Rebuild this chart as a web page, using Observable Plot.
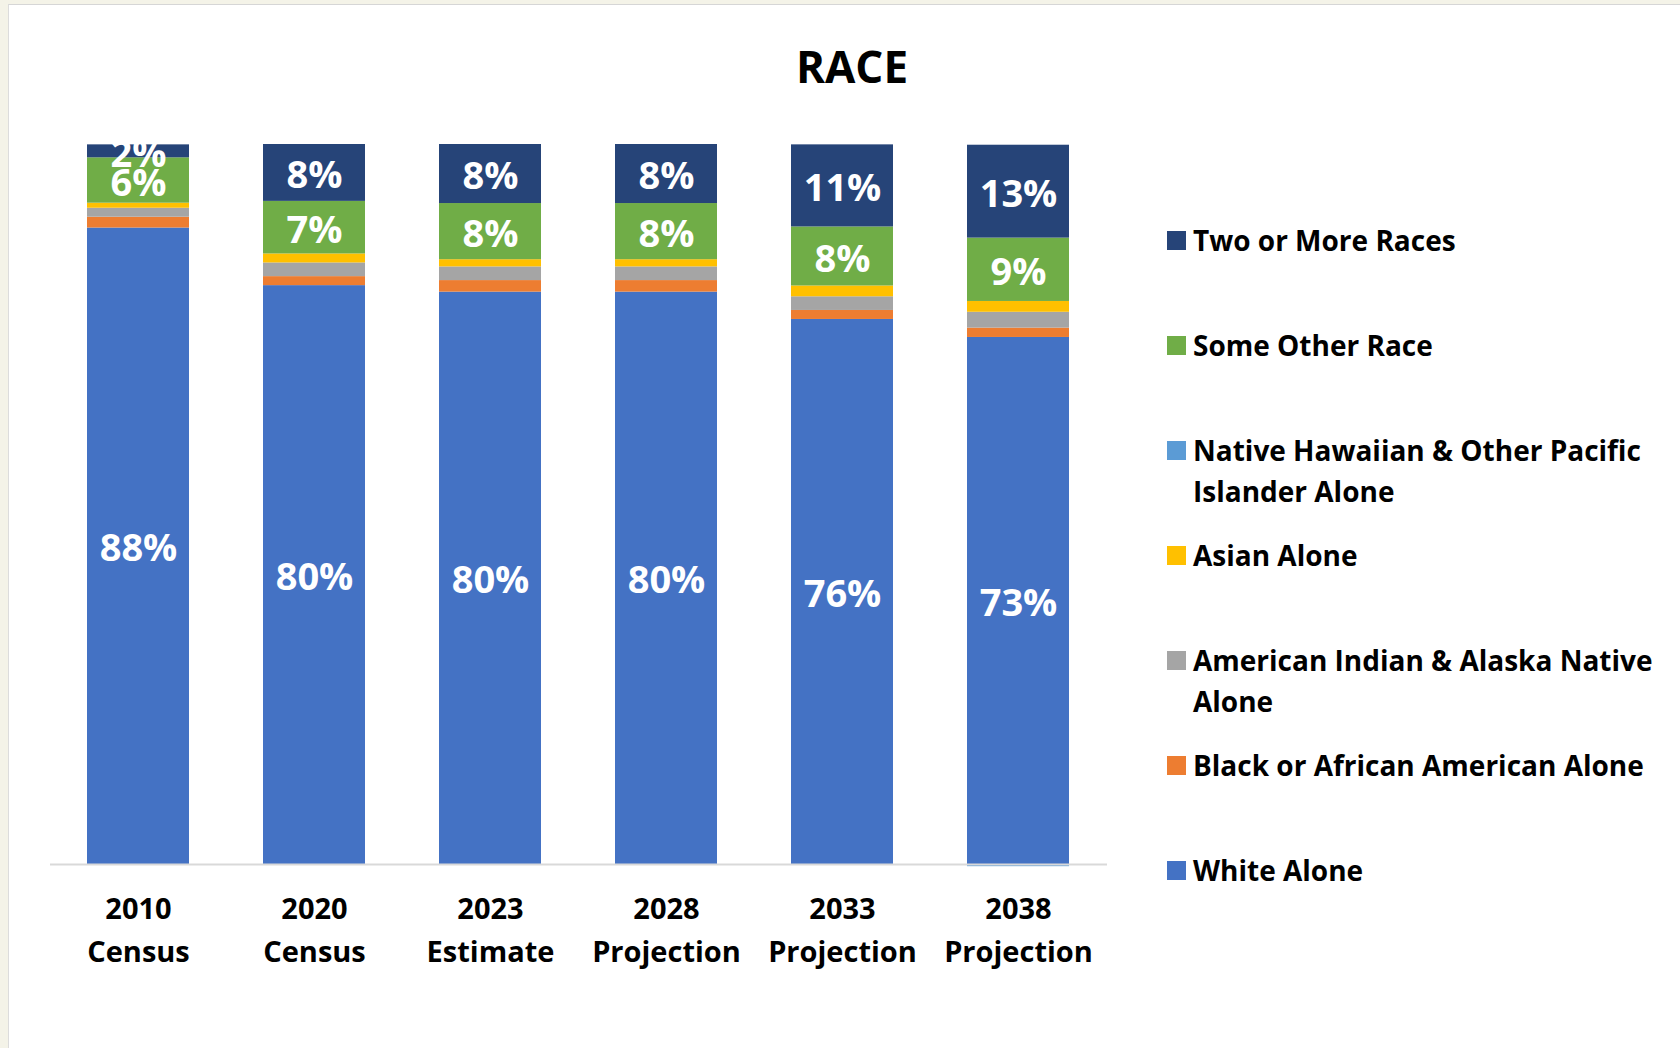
<!DOCTYPE html>
<html>
<head>
<meta charset="utf-8">
<script src="https://cdn.jsdelivr.net/npm/d3@7"></script>
<script src="https://cdn.jsdelivr.net/npm/@observablehq/plot@0.6"></script>
<style>
  html, body { margin: 0; padding: 0; }
  body { width: 1680px; height: 1048px; background: #f4f3e8; position: relative; overflow: hidden; font-family: "Open Sans", sans-serif; }
  #panel { position: absolute; left: 8px; top: 4px; width: 1672px; height: 1044px; background: #fff; border-top: 1.5px solid #d6d6d6; border-left: 1.5px solid #dcdcdc; box-sizing: border-box; }
  #chart { position: absolute; left: 0; top: 0; }
  #title { position: absolute; left: 852px; top: 44px; transform: translateX(-50%); font-size: 44px; line-height: 44px; font-weight: 700; color: #000; white-space: nowrap; }
  .lg-item { position: absolute; left: 1167px; }
  .lg-sw { position: absolute; left: 0; width: 19px; height: 19px; }
  .lg-tx { position: absolute; left: 26px; top: 0; font-size: 28px; line-height: 41px; font-weight: 700; color: #000; white-space: pre; }
</style>
</head>
<body>
<div id="panel"></div>
<div id="chart"></div>
<div id="title">RACE</div>
<div id="legend"></div>
<script>
// ---- data ----
const categories = ["2010 Census", "2020 Census", "2023 Estimate", "2028 Projection", "2033 Projection", "2038 Projection"];
const seriesNames = [
  "White Alone",
  "Black or African American Alone",
  "American Indian & Alaska Native Alone",
  "Asian Alone",
  "Native Hawaiian & Other Pacific Islander Alone",
  "Some Other Race",
  "Two or More Races"
];
const seriesColors = ["#4472C4", "#ED7D31", "#A5A5A5", "#FFC000", "#5B9BD5", "#70AD47", "#264478"];
const whiteAlone = [88.4, 80.4, 79.5, 79.5, 75.7, 73.2];
const blackAlone = [1.5, 1.25, 1.6, 1.6, 1.25, 1.3];
const aianAlone  = [1.25, 1.9, 1.9, 1.9, 1.9, 2.2];
const asianAlone = [0.7, 1.25, 1.0, 1.0, 1.5, 1.5];
const nhpiAlone  = [0, 0, 0, 0, 0, -0.3];
const someOther  = [6.3, 7.3, 7.8, 7.8, 8.2, 8.8];
const twoOrMore  = [1.8, 7.9, 8.2, 8.2, 11.4, 12.9];
const labeledSeries = ["White Alone", "Some Other Race", "Two or More Races"];
// legend display lines (wrapped like the original)
const legendText = {
  "Native Hawaiian & Other Pacific Islander Alone": "Native Hawaiian & Other Pacific\nIslander Alone",
  "American Indian & Alaska Native Alone": "American Indian & Alaska Native\nAlone"
};

const seriesValues = [whiteAlone, blackAlone, aianAlone, asianAlone, nhpiAlone, someOther, twoOrMore];
const data = categories.flatMap((c, i) =>
  seriesNames.map((s, j) => ({category: c, series: s, value: seriesValues[j][i]}))
);

const chart = Plot.plot({
  width: 1130,
  height: 1048,
  marginLeft: 50,
  marginRight: 23,
  marginTop: 144,
  marginBottom: 184,
  style: {background: "transparent", fontFamily: "Open Sans, sans-serif", color: "#000", overflow: "visible"},
  x: {domain: categories, paddingInner: 0.42, paddingOuter: 0.21, axis: null, label: null},
  y: {domain: [0, 100], axis: null},
  color: {domain: seriesNames, range: seriesColors},
  marks: [
    Plot.barY(data, {x: "category", y: "value", z: "series", fill: "series", order: seriesNames}),
    Plot.ruleY([0], {stroke: "#d9d9d9", strokeWidth: 2}),
    Plot.text(data, Plot.stackY({
      x: "category", y: "value", z: "series", order: seriesNames,
      text: d => labeledSeries.includes(d.series) ? Math.round(d.value) + "%" : null,
      fill: "white", fontSize: 38, fontWeight: "bold", dy: 3
    })),
    Plot.axisX({
      label: null,
      tickSize: 0, tickPadding: 24, fontSize: 29, fontWeight: "bold", lineHeight: 1.48,
      fill: "#000", tickFormat: d => d.replace(" ", "\n")
    })
  ]
});
document.getElementById("chart").appendChild(chart);

// ---- legend (HTML, top item first) ----
const legend = document.getElementById("legend");
const legendOrder = seriesNames.slice().reverse();
legendOrder.forEach((s, k) => {
  const center = 240 + k * 105.1;
  const item = document.createElement("div");
  item.className = "lg-item";
  item.style.top = (center - 20.5) + "px";
  const sw = document.createElement("div");
  sw.className = "lg-sw";
  sw.style.top = "11px";
  sw.style.background = seriesColors[seriesNames.indexOf(s)];
  const tx = document.createElement("div");
  tx.className = "lg-tx";
  tx.textContent = legendText[s] || s;
  item.appendChild(sw);
  item.appendChild(tx);
  legend.appendChild(item);
});
</script>
</body>
</html>
